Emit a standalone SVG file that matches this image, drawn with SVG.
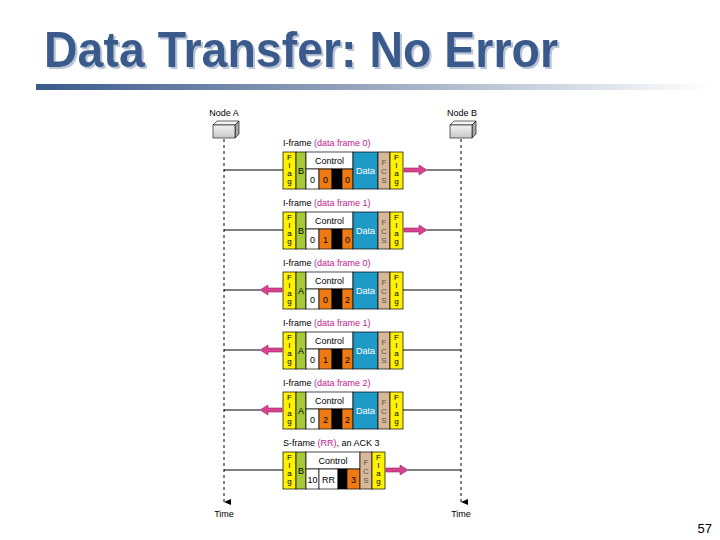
<svg xmlns="http://www.w3.org/2000/svg" width="720" height="540" viewBox="0 0 720 540">
<defs>
<linearGradient id="bar" x1="0" y1="0" x2="1" y2="0">
<stop offset="0" stop-color="#3A5A8C"/>
<stop offset="0.5" stop-color="#9AA8C0"/>
<stop offset="1" stop-color="#FFFFFF"/>
</linearGradient>
<linearGradient id="front" x1="0" y1="0" x2="0" y2="1">
<stop offset="0" stop-color="#F2F2F2"/>
<stop offset="1" stop-color="#C8C8C8"/>
</linearGradient>
<filter id="shadow" x="-5%" y="-20%" width="110%" height="140%">
<feDropShadow dx="2" dy="2" stdDeviation="0.6" flood-color="#B8C4D8" flood-opacity="1"/>
</filter>
<marker id="tarrow" markerWidth="8" markerHeight="8" refX="4" refY="7" orient="auto" markerUnits="userSpaceOnUse">
<path d="M1,0 L4,7 L7,0 Z" fill="#000"/>
</marker>
</defs>
<style>
.t{font-family:"Liberation Sans",Arial,sans-serif;font-size:9px;fill:#000}
.s{font-size:8px}
.mag{fill:#C4208C}
.c{text-anchor:middle}
.cell{stroke:#000;stroke-width:0.7}
.flag{fill:#FFF200}
.adr{fill:#A6C83A}
.wh{fill:#FFFFFF}
.or{fill:#F07A12}
.bk{fill:#000}
.dat{fill:#1E9AC6}
.fcs{fill:#D8B898}
.ln{stroke:#000;stroke-width:1;fill:none}
.life{stroke:#000;stroke-width:1;stroke-dasharray:3,3;fill:none}
.arw{fill:#D4448E;stroke:#9A2060;stroke-width:0.6}
.dw{fill:#FFFFFF}
.fc{fill:#555}
</style>
<rect width="720" height="540" fill="#FFFFFF"/>
<g id="title">
<text x="44" y="67" font-family="Liberation Sans,Arial,sans-serif" font-weight="bold" font-size="50" fill="#3A5A8C" textLength="514" lengthAdjust="spacingAndGlyphs" filter="url(#shadow)">Data Transfer: No Error</text>
<rect x="36" y="84" width="674" height="6" fill="url(#bar)"/>
</g>
<g id="nodeA">
<text class="t c" x="224" y="116">Node A</text>
<polygon points="213,125 217,121 239,121 235,125" fill="#F4F4F4" stroke="#000" stroke-width="0.6"/>
<polygon points="235,125 239,121 239,134 235,138" fill="#A8A8A8" stroke="#000" stroke-width="0.6"/>
<rect x="213" y="125" width="22" height="13" fill="url(#front)" stroke="#000" stroke-width="0.6"/>
</g>
<g id="nodeB">
<text class="t c" x="462" y="116">Node B</text>
<polygon points="450,125 454,121 476,121 472,125" fill="#F4F4F4" stroke="#000" stroke-width="0.6"/>
<polygon points="472,125 476,121 476,134 472,138" fill="#A8A8A8" stroke="#000" stroke-width="0.6"/>
<rect x="450" y="125" width="22" height="13" fill="url(#front)" stroke="#000" stroke-width="0.6"/>
</g>
<g id="connectors">
<line class="life" x1="224" y1="139" x2="224" y2="502" marker-end="url(#tarrow)"/>
<line class="life" x1="461" y1="139" x2="461" y2="502" marker-end="url(#tarrow)"/>
<line class="ln" x1="224" y1="170" x2="283" y2="170"/>
<line class="ln" x1="427" y1="170" x2="461" y2="170"/>
<line class="ln" x1="224" y1="230" x2="283" y2="230"/>
<line class="ln" x1="427" y1="230" x2="461" y2="230"/>
<line class="ln" x1="224" y1="290" x2="260" y2="290"/>
<line class="ln" x1="403" y1="290" x2="461" y2="290"/>
<line class="ln" x1="224" y1="350" x2="260" y2="350"/>
<line class="ln" x1="403" y1="350" x2="461" y2="350"/>
<line class="ln" x1="224" y1="410" x2="260" y2="410"/>
<line class="ln" x1="403" y1="410" x2="461" y2="410"/>
<line class="ln" x1="224" y1="470" x2="283" y2="470"/>
<line class="ln" x1="408" y1="470" x2="461" y2="470"/>
<polygon class="arw" points="404,168 419,168 419,165 427,170 419,175 419,172 404,172"/>
<polygon class="arw" points="404,228 419,228 419,225 427,230 419,235 419,232 404,232"/>
<polygon class="arw" points="282,288 268,288 268,285 260,290 268,295 268,292 282,292"/>
<polygon class="arw" points="282,348 268,348 268,345 260,350 268,355 268,352 282,352"/>
<polygon class="arw" points="282,408 268,408 268,405 260,410 268,415 268,412 282,412"/>
<polygon class="arw" points="386,468 400,468 400,465 408,470 400,475 400,472 386,472"/>
<text class="t c" x="224" y="517">Time</text>
<text class="t c" x="461" y="517">Time</text>
</g>
<g id="iframe0" transform="translate(0,152)">
<text class="t" x="283" y="-6">I-frame <tspan class="mag">(data frame 0)</tspan></text>
<rect class="cell flag" x="283" y="0" width="13" height="37"/>
<rect class="cell adr" x="296" y="0" width="10" height="37"/>
<rect class="cell wh" x="306" y="0" width="47" height="17"/>
<rect class="cell wh" x="306" y="17" width="13" height="20"/>
<rect class="cell or" x="319" y="17" width="13" height="20"/>
<rect class="cell bk" x="332" y="17" width="10" height="20"/>
<rect class="cell or" x="342" y="17" width="11" height="20"/>
<rect class="cell dat" x="353" y="0" width="25" height="37"/>
<rect class="cell fcs" x="378" y="0" width="12" height="37"/>
<rect class="cell flag" x="390" y="0" width="13" height="37"/>
<text class="t s c" x="289.5" y="8">F</text><text class="t s c" x="289.5" y="16">l</text><text class="t s c" x="289.5" y="24">a</text><text class="t s c" x="289.5" y="32">g</text>
<text class="t c" x="301" y="22">B</text>
<text class="t c" x="329.5" y="12">Control</text>
<text class="t c" x="312.5" y="31">0</text><text class="t c" x="325.5" y="31">0</text><text class="t c" x="347.5" y="31">0</text>
<text class="t c dw" x="365.5" y="22">Data</text>
<text class="t s c fc" x="384" y="13">F</text><text class="t s c fc" x="384" y="22">C</text><text class="t s c fc" x="384" y="31">S</text>
<text class="t s c" x="396.5" y="8">F</text><text class="t s c" x="396.5" y="16">l</text><text class="t s c" x="396.5" y="24">a</text><text class="t s c" x="396.5" y="32">g</text>
</g>
<g id="iframe1" transform="translate(0,212)">
<text class="t" x="283" y="-6">I-frame <tspan class="mag">(data frame 1)</tspan></text>
<rect class="cell flag" x="283" y="0" width="13" height="37"/>
<rect class="cell adr" x="296" y="0" width="10" height="37"/>
<rect class="cell wh" x="306" y="0" width="47" height="17"/>
<rect class="cell wh" x="306" y="17" width="13" height="20"/>
<rect class="cell or" x="319" y="17" width="13" height="20"/>
<rect class="cell bk" x="332" y="17" width="10" height="20"/>
<rect class="cell or" x="342" y="17" width="11" height="20"/>
<rect class="cell dat" x="353" y="0" width="25" height="37"/>
<rect class="cell fcs" x="378" y="0" width="12" height="37"/>
<rect class="cell flag" x="390" y="0" width="13" height="37"/>
<text class="t s c" x="289.5" y="8">F</text><text class="t s c" x="289.5" y="16">l</text><text class="t s c" x="289.5" y="24">a</text><text class="t s c" x="289.5" y="32">g</text>
<text class="t c" x="301" y="22">B</text>
<text class="t c" x="329.5" y="12">Control</text>
<text class="t c" x="312.5" y="31">0</text><text class="t c" x="325.5" y="31">1</text><text class="t c" x="347.5" y="31">0</text>
<text class="t c dw" x="365.5" y="22">Data</text>
<text class="t s c fc" x="384" y="13">F</text><text class="t s c fc" x="384" y="22">C</text><text class="t s c fc" x="384" y="31">S</text>
<text class="t s c" x="396.5" y="8">F</text><text class="t s c" x="396.5" y="16">l</text><text class="t s c" x="396.5" y="24">a</text><text class="t s c" x="396.5" y="32">g</text>
</g>
<g id="iframe2" transform="translate(0,272)">
<text class="t" x="283" y="-6">I-frame <tspan class="mag">(data frame 0)</tspan></text>
<rect class="cell flag" x="283" y="0" width="13" height="37"/>
<rect class="cell adr" x="296" y="0" width="10" height="37"/>
<rect class="cell wh" x="306" y="0" width="47" height="17"/>
<rect class="cell wh" x="306" y="17" width="13" height="20"/>
<rect class="cell or" x="319" y="17" width="13" height="20"/>
<rect class="cell bk" x="332" y="17" width="10" height="20"/>
<rect class="cell or" x="342" y="17" width="11" height="20"/>
<rect class="cell dat" x="353" y="0" width="25" height="37"/>
<rect class="cell fcs" x="378" y="0" width="12" height="37"/>
<rect class="cell flag" x="390" y="0" width="13" height="37"/>
<text class="t s c" x="289.5" y="8">F</text><text class="t s c" x="289.5" y="16">l</text><text class="t s c" x="289.5" y="24">a</text><text class="t s c" x="289.5" y="32">g</text>
<text class="t c" x="301" y="22">A</text>
<text class="t c" x="329.5" y="12">Control</text>
<text class="t c" x="312.5" y="31">0</text><text class="t c" x="325.5" y="31">0</text><text class="t c" x="347.5" y="31">2</text>
<text class="t c dw" x="365.5" y="22">Data</text>
<text class="t s c fc" x="384" y="13">F</text><text class="t s c fc" x="384" y="22">C</text><text class="t s c fc" x="384" y="31">S</text>
<text class="t s c" x="396.5" y="8">F</text><text class="t s c" x="396.5" y="16">l</text><text class="t s c" x="396.5" y="24">a</text><text class="t s c" x="396.5" y="32">g</text>
</g>
<g id="iframe3" transform="translate(0,332)">
<text class="t" x="283" y="-6">I-frame <tspan class="mag">(data frame 1)</tspan></text>
<rect class="cell flag" x="283" y="0" width="13" height="37"/>
<rect class="cell adr" x="296" y="0" width="10" height="37"/>
<rect class="cell wh" x="306" y="0" width="47" height="17"/>
<rect class="cell wh" x="306" y="17" width="13" height="20"/>
<rect class="cell or" x="319" y="17" width="13" height="20"/>
<rect class="cell bk" x="332" y="17" width="10" height="20"/>
<rect class="cell or" x="342" y="17" width="11" height="20"/>
<rect class="cell dat" x="353" y="0" width="25" height="37"/>
<rect class="cell fcs" x="378" y="0" width="12" height="37"/>
<rect class="cell flag" x="390" y="0" width="13" height="37"/>
<text class="t s c" x="289.5" y="8">F</text><text class="t s c" x="289.5" y="16">l</text><text class="t s c" x="289.5" y="24">a</text><text class="t s c" x="289.5" y="32">g</text>
<text class="t c" x="301" y="22">A</text>
<text class="t c" x="329.5" y="12">Control</text>
<text class="t c" x="312.5" y="31">0</text><text class="t c" x="325.5" y="31">1</text><text class="t c" x="347.5" y="31">2</text>
<text class="t c dw" x="365.5" y="22">Data</text>
<text class="t s c fc" x="384" y="13">F</text><text class="t s c fc" x="384" y="22">C</text><text class="t s c fc" x="384" y="31">S</text>
<text class="t s c" x="396.5" y="8">F</text><text class="t s c" x="396.5" y="16">l</text><text class="t s c" x="396.5" y="24">a</text><text class="t s c" x="396.5" y="32">g</text>
</g>
<g id="iframe4" transform="translate(0,392)">
<text class="t" x="283" y="-6">I-frame <tspan class="mag">(data frame 2)</tspan></text>
<rect class="cell flag" x="283" y="0" width="13" height="37"/>
<rect class="cell adr" x="296" y="0" width="10" height="37"/>
<rect class="cell wh" x="306" y="0" width="47" height="17"/>
<rect class="cell wh" x="306" y="17" width="13" height="20"/>
<rect class="cell or" x="319" y="17" width="13" height="20"/>
<rect class="cell bk" x="332" y="17" width="10" height="20"/>
<rect class="cell or" x="342" y="17" width="11" height="20"/>
<rect class="cell dat" x="353" y="0" width="25" height="37"/>
<rect class="cell fcs" x="378" y="0" width="12" height="37"/>
<rect class="cell flag" x="390" y="0" width="13" height="37"/>
<text class="t s c" x="289.5" y="8">F</text><text class="t s c" x="289.5" y="16">l</text><text class="t s c" x="289.5" y="24">a</text><text class="t s c" x="289.5" y="32">g</text>
<text class="t c" x="301" y="22">A</text>
<text class="t c" x="329.5" y="12">Control</text>
<text class="t c" x="312.5" y="31">0</text><text class="t c" x="325.5" y="31">2</text><text class="t c" x="347.5" y="31">2</text>
<text class="t c dw" x="365.5" y="22">Data</text>
<text class="t s c fc" x="384" y="13">F</text><text class="t s c fc" x="384" y="22">C</text><text class="t s c fc" x="384" y="31">S</text>
<text class="t s c" x="396.5" y="8">F</text><text class="t s c" x="396.5" y="16">l</text><text class="t s c" x="396.5" y="24">a</text><text class="t s c" x="396.5" y="32">g</text>
</g>
<g id="sframe" transform="translate(0,452)">
<text class="t" x="283" y="-6">S-frame <tspan class="mag">(RR)</tspan>, an ACK 3</text>
<rect class="cell flag" x="283" y="0" width="13" height="37"/>
<rect class="cell adr" x="296" y="0" width="10" height="37"/>
<rect class="cell wh" x="306" y="0" width="54" height="17"/>
<rect class="cell wh" x="306" y="17" width="13" height="20"/>
<rect class="cell wh" x="319" y="17" width="19" height="20"/>
<rect class="cell bk" x="338" y="17" width="9" height="20"/>
<rect class="cell or" x="347" y="17" width="13" height="20"/>
<rect class="cell fcs" x="360" y="0" width="12" height="37"/>
<rect class="cell flag" x="372" y="0" width="13" height="37"/>
<text class="t s c" x="289.5" y="8">F</text><text class="t s c" x="289.5" y="16">l</text><text class="t s c" x="289.5" y="24">a</text><text class="t s c" x="289.5" y="32">g</text>
<text class="t c" x="301" y="22">B</text>
<text class="t c" x="333" y="12">Control</text>
<text class="t c" x="312.5" y="31">10</text><text class="t c" x="328.5" y="31">RR</text><text class="t c" x="353.5" y="31">3</text>
<text class="t s c fc" x="366" y="13">F</text><text class="t s c fc" x="366" y="22">C</text><text class="t s c fc" x="366" y="31">S</text>
<text class="t s c" x="378.5" y="8">F</text><text class="t s c" x="378.5" y="16">l</text><text class="t s c" x="378.5" y="24">a</text><text class="t s c" x="378.5" y="32">g</text>
</g>
<text x="712" y="533" font-family="Liberation Sans,Arial,sans-serif" font-size="13" text-anchor="end" fill="#000">57</text>
</svg>
